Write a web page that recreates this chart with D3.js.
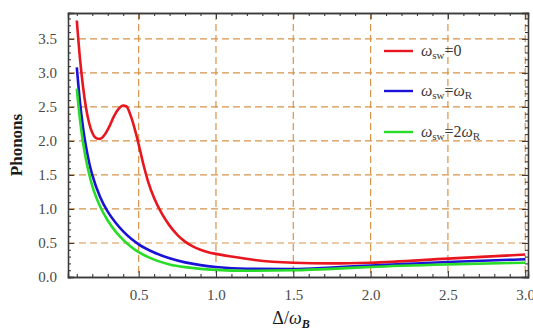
<!DOCTYPE html>
<html>
<head>
<meta charset="utf-8">
<script src="https://cdn.jsdelivr.net/npm/d3@7"></script>
<style>
  body { margin: 0; background: #fff; }
  svg { display: block; }
  svg text { font-family: "Liberation Serif", "Times New Roman", "DejaVu Serif", serif; }
</style>
</head>
<body>
<svg width="533" height="335"></svg>
<script>
/************************** DATA **************************/
var xsRed   = [0.10,0.12,0.14,0.16,0.18,0.20,0.22,0.25,0.28,0.31,0.34,0.37,0.40,0.42,0.45,0.48,0.50,0.53,0.56,0.60,0.65,0.70,0.75,0.80,0.85,0.90,0.95,1.00,1.10,1.25,1.50,1.75,2.00,2.50,3.00];
var ysRed   = [3.77,3.22,2.80,2.48,2.26,2.12,2.05,2.03,2.09,2.21,2.36,2.47,2.52,2.51,2.36,2.13,1.95,1.66,1.41,1.16,0.93,0.755,0.62,0.52,0.45,0.40,0.365,0.34,0.30,0.25,0.21,0.20,0.21,0.27,0.33];

var xsBlue  = [0.10,0.12,0.14,0.16,0.18,0.20,0.25,0.30,0.35,0.40,0.45,0.50,0.60,0.70,0.80,0.90,1.00,1.20,1.50,1.75,2.00,2.50,3.00];
var ysBlue  = [3.08,2.58,2.20,1.91,1.68,1.50,1.18,0.96,0.80,0.67,0.565,0.48,0.36,0.275,0.215,0.175,0.148,0.122,0.118,0.14,0.17,0.22,0.26];

var xsGreen = [0.10,0.12,0.14,0.16,0.18,0.20,0.25,0.30,0.35,0.40,0.45,0.50,0.60,0.70,0.80,0.90,1.00,1.20,1.50,1.75,2.00,2.50,3.00];
var ysGreen = [2.77,2.32,1.98,1.72,1.51,1.34,1.04,0.83,0.67,0.545,0.445,0.365,0.255,0.185,0.145,0.12,0.105,0.092,0.10,0.12,0.148,0.185,0.21];

var xTickVals = [0.5,1.0,1.5,2.0,2.5,3.0];
var yTickVals = [0.0,0.5,1.0,1.5,2.0,2.5,3.0,3.5];
var legendSubs = ["0", "ωR", "2ωR"];

/************************** LAYOUT **************************/
var L = 68, R = 528, T = 13, B = 277;
var svg = d3.select("svg");

var x = d3.scaleLinear().domain([0.043, 3.018]).range([L, R]);
var y = d3.scaleLinear().domain([0, 3.88]).range([B, T]);

var gridColor = "#d8934a";
var frameColor = "#3a3a3a";

//grid - dashed orange at every labelled tick (not at 0)
svg.append("g").selectAll("line").data(yTickVals.filter(function(d){ return d > 0; }))
  .enter().append("line")
  .attr("x1", L).attr("x2", R)
  .attr("y1", function(d){ return y(d); }).attr("y2", function(d){ return y(d); })
  .attr("stroke", gridColor).attr("stroke-width", 1.2).attr("stroke-dasharray", "7,4");
svg.append("g").selectAll("line").data(xTickVals)
  .enter().append("line")
  .attr("y1", T).attr("y2", B)
  .attr("x1", function(d){ return x(d); }).attr("x2", function(d){ return x(d); })
  .attr("stroke", gridColor).attr("stroke-width", 1.2).attr("stroke-dasharray", "7,4");

//curves
var line = d3.line()
  .x(function(d){ return x(d[0]); })
  .y(function(d){ return y(d[1]); })
  .curve(d3.curveMonotoneX);

var series = [
  {xs: xsRed,   ys: ysRed,   color: "#e8161e"},
  {xs: xsBlue,  ys: ysBlue,  color: "#1a12d6"},
  {xs: xsGreen, ys: ysGreen, color: "#28dc28"}
];
series.forEach(function(s){
  svg.append("path")
    .attr("d", line(d3.zip(s.xs, s.ys)))
    .attr("fill", "none")
    .attr("stroke", s.color)
    .attr("stroke-width", 2.6)
    .attr("stroke-linejoin", "round");
});

//frame with inward ticks (mathematica style) on all four sides
svg.append("g").attr("transform", "translate(0," + B + ")")
  .call(d3.axisBottom(x).tickValues(xTickVals).tickSize(-6).tickFormat(d3.format(".1f")).tickPadding(12));
svg.append("g").attr("transform", "translate(0," + T + ")")
  .call(d3.axisTop(x).tickValues(xTickVals).tickSize(-6).tickFormat(""));
svg.append("g").attr("transform", "translate(" + L + ",0)")
  .call(d3.axisLeft(y).tickValues(yTickVals).tickSize(-6).tickFormat(d3.format(".1f")).tickPadding(11));
svg.append("g").attr("transform", "translate(" + R + ",0)")
  .call(d3.axisRight(y).tickValues(yTickVals).tickSize(-6).tickFormat(""));

//minor ticks every 0.1
var xMinor = d3.range(1, 31).map(function(i){ return i/10; }).filter(function(v){ return Math.round(v*10) % 5 != 0; });
var yMinor = d3.range(1, 39).map(function(i){ return i/10; }).filter(function(v){ return Math.round(v*10) % 5 != 0; });
svg.append("g").attr("transform", "translate(0," + B + ")")
  .call(d3.axisBottom(x).tickValues(xMinor).tickSize(-3).tickFormat(""));
svg.append("g").attr("transform", "translate(0," + T + ")")
  .call(d3.axisTop(x).tickValues(xMinor).tickSize(-3).tickFormat(""));
svg.append("g").attr("transform", "translate(" + L + ",0)")
  .call(d3.axisLeft(y).tickValues(yMinor).tickSize(-3).tickFormat(""));
svg.append("g").attr("transform", "translate(" + R + ",0)")
  .call(d3.axisRight(y).tickValues(yMinor).tickSize(-3).tickFormat(""));

svg.selectAll("g").attr("font-family", null);
svg.selectAll(".domain").attr("stroke", frameColor).attr("stroke-width", 1.3);
svg.selectAll(".tick line").attr("stroke", frameColor).attr("stroke-width", 1.1);
svg.selectAll(".tick text").attr("font-size", 15).attr("fill", "#4a4a4a");

//axis titles
svg.append("text")
  .attr("transform", "translate(22,145) rotate(-90)")
  .attr("text-anchor", "middle")
  .attr("font-weight", "bold").attr("font-size", 17)
  .attr("fill", "#1a1a1a")
  .text("Phonons");

var xt = svg.append("text")
  .attr("x", 291).attr("y", 324)
  .attr("text-anchor", "middle")
  .attr("font-size", 18).attr("fill", "#1a1a1a");
xt.append("tspan").text("Δ/");
xt.append("tspan").attr("font-style", "italic").text("ω");
xt.append("tspan").attr("font-style", "italic").attr("font-weight", "bold")
  .attr("font-size", 12).attr("dy", 4).text("B");

//legend
var legY = [51, 91, 132];
series.forEach(function(s, i){
  svg.append("line")
    .attr("x1", 384).attr("x2", 413)
    .attr("y1", legY[i]).attr("y2", legY[i])
    .attr("stroke", s.color).attr("stroke-width", 2.4);
  var t = svg.append("text")
    .attr("x", 421).attr("y", legY[i] + 5)
    .attr("font-size", 16).attr("fill", "#3a3a3a");
  t.append("tspan").attr("font-style", "italic").text("ω");
  t.append("tspan").attr("font-size", 11).attr("dy", 3).text("sw");
  t.append("tspan").attr("dy", -3).text("=");
  var sub = legendSubs[i];
  if (sub == "0") {
    t.append("tspan").text("0");
  } else {
    if (sub.charAt(0) == "2") t.append("tspan").text("2");
    t.append("tspan").attr("font-style", "italic").text("ω");
    t.append("tspan").attr("font-size", 11).attr("dy", 3).text("R");
  }
});
</script>
</body>
</html>
